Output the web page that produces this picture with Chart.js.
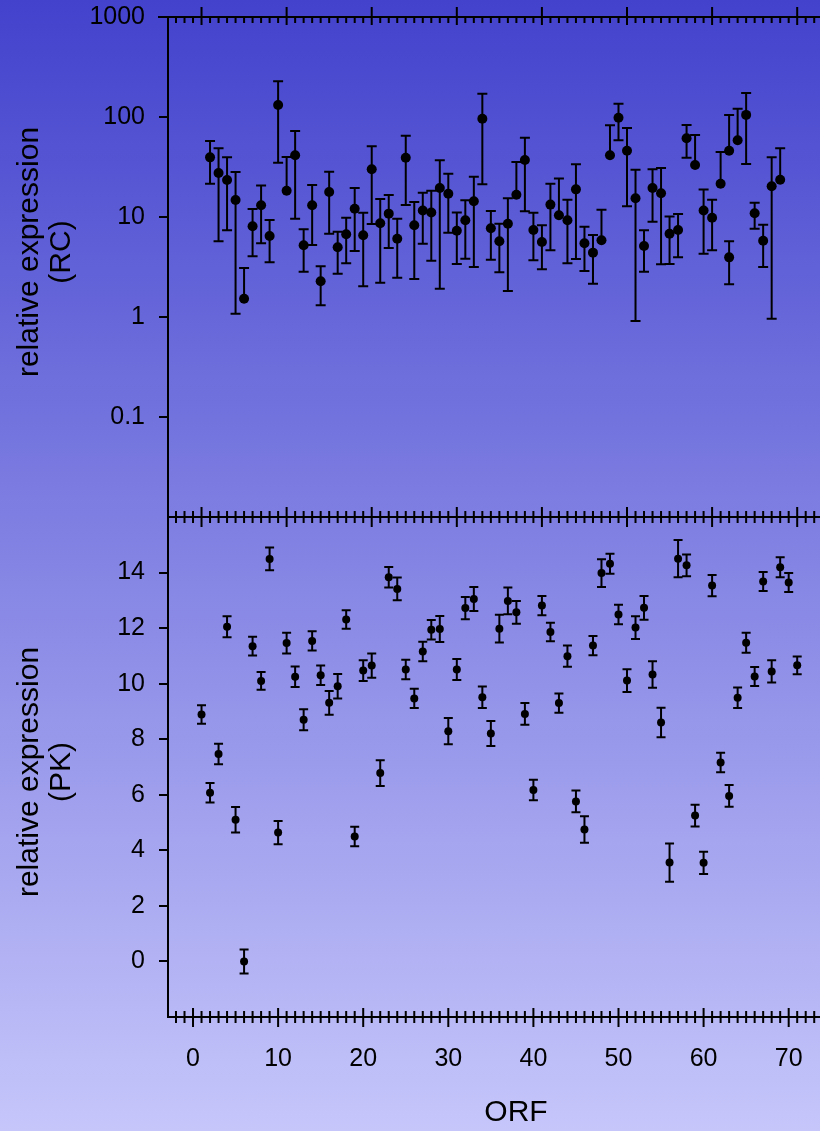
<!DOCTYPE html>
<html>
<head>
<meta charset="utf-8">
<script src="https://cdn.jsdelivr.net/npm/chart.js@4.4.1/dist/chart.umd.min.js"></script>
<style>
  html, body { margin: 0; padding: 0; }
  body {
    width: 820px; height: 1131px; overflow: hidden; position: relative;
    background: linear-gradient(to bottom, #4242cd 0%, #c6c6fb 100%);
  }
  canvas { position: absolute; left: 0; }
  #rc { top: 0; }
  #pk { top: 505px; }
</style>
</head>
<body>
<!-- plot runs past the right edge of the page, as in the original crop -->
<canvas id="rc" width="864" height="530"></canvas>
<canvas id="pk" width="864" height="626"></canvas>
<script>
// top panel: relative expression (RC), log scale
const rcX = [1, 2, 3, 4, 5, 6, 7, 8, 9, 10, 11, 12, 13, 14, 15, 16, 17, 18, 19, 20,
  21, 22, 23, 24, 25, 26, 27, 28, 29, 30, 31, 32, 33, 34, 35, 36, 37, 38, 39, 40,
  41, 42, 43, 44, 45, 46, 47, 48, 49, 50, 51, 52, 53, 54, 55, 56, 57, 58, 59, 60,
  61, 62, 62, 63, 64, 65, 66, 67, 68];
const rcVal = [39.5, 27.5, 23.4, 14.8, 1.52, 8.07, 13.1, 6.46, 132, 18.3,
  41.4, 5.21, 13.1, 2.28, 17.8, 4.98, 6.71, 12.1, 6.56, 30.0,
  8.65, 10.8, 6.07, 39.2, 8.26, 11.6, 11.1, 19.5, 17.1, 7.30,
  9.27, 14.4, 96.2, 7.71, 5.71, 8.57, 16.7, 37.2, 7.41, 5.62,
  13.3, 10.4, 9.27, 18.9, 5.46, 4.40, 5.85, 41.4, 98.4, 46.0,
  15.4, 5.13, 19.5, 17.3, 6.81, 7.41, 61.2, 33.1, 11.6, 9.84,
  21.5, 46.0, 3.95, 58.5, 105, 10.9, 5.79, 20.3, 23.6];
const rcHi = [57.5, 48.6, 39.5, 28.2, 3.09, 12.0, 20.6, 9.33, 228, 39.8,
  72.4, 7.53, 20.9, 3.21, 28.4, 7.13, 9.84, 19.5, 11.0, 50.9,
  15.1, 16.6, 9.62, 65.0, 14.1, 17.5, 18.3, 36.9, 27.1, 11.1,
  14.7, 25.3, 171, 11.5, 8.57, 15.4, 35.5, 62.1, 11.0, 8.26,
  21.5, 24.2, 14.9, 33.6, 8.00, 6.61, 11.8, 82.6, 136, 77.6,
  29.7, 7.36, 30.0, 30.9, 10.1, 10.7, 83.2, 66.1, 18.8, 14.9,
  44.7, 105, 5.71, 121, 174, 13.9, 8.38, 39.5, 48.6];
const rcLo = [21.5, 5.71, 7.36, 1.08, null, 4.05, 5.46, 3.52, 34.9, null,
  9.62, 2.84, 5.25, 1.31, 6.81, 2.71, 3.44, 4.57, 2.03, 8.51,
  2.20, 4.90, 2.47, 13.2, 2.40, 5.41, 3.66, 1.92, 6.97, 3.39,
  3.83, 3.16, 21.2, 3.74, 2.80, 1.82, null, 11.4, 3.69, 3.00,
  4.65, null, 3.44, 3.80, 2.88, 2.15, null, null, 58.5, 12.8,
  0.912, 2.84, 8.98, 3.37, 3.39, 3.95, 39.2, null, 4.30, 4.65,
  null, null, 2.12, null, 33.9, 7.64, 3.16, 0.962, null];
const rcTicks = [0.1, 1, 10, 100, 1000];

// bottom panel: relative expression (PK), linear scale
const pkX = [1, 2, 3, 4, 5, 6, 7, 8, 9, 10, 11, 12, 13, 14, 15, 16, 17, 18, 19, 20,
  21, 22, 23, 24, 25, 26, 27, 28, 29, 30, 31, 32, 33, 34, 35, 36, 37, 38, 39, 40,
  41, 42, 43, 44, 45, 46, 47, 48, 49, 50, 51, 52, 53, 54, 55, 56, 57, 58, 59, 60,
  61, 62, 63, 64, 65, 66, 67, 68, 69, 70, 71];
const pkVal = [8.89, 6.07, 7.47, 12.05, 5.10, 0.0, 11.35, 10.10, 14.49, 4.64,
  11.46, 10.25, 8.70, 11.54, 10.30, 9.31, 9.91, 12.31, 4.50, 10.47,
  10.65, 6.78, 13.83, 13.41, 10.51, 9.47, 11.16, 11.94, 11.97, 8.29,
  10.51, 12.72, 13.05, 9.51, 8.21, 11.98, 12.98, 12.57, 8.91, 6.17,
  12.81, 11.86, 9.30, 10.99, 5.76, 4.75, 11.37, 13.98, 14.32, 12.49,
  10.11, 12.02, 12.73, 10.33, 8.60, 3.56, 14.50, 14.26, 5.25, 3.55,
  13.53, 7.16, 5.96, 9.49, 11.47, 10.26, 13.68, 10.44, 14.19, 13.64, 10.66];
const pkErr = [0.33, 0.35, 0.37, 0.38, 0.46, 0.43, 0.34, 0.32, 0.41, 0.42,
  0.37, 0.37, 0.38, 0.35, 0.35, 0.43, 0.44, 0.33, 0.35, 0.37,
  0.44, 0.46, 0.37, 0.41, 0.35, 0.35, 0.35, 0.35, 0.47, 0.47,
  0.38, 0.40, 0.43, 0.39, 0.45, 0.50, 0.48, 0.41, 0.39, 0.37,
  0.35, 0.33, 0.35, 0.38, 0.39, 0.48, 0.35, 0.50, 0.36, 0.35,
  0.41, 0.41, 0.43, 0.48, 0.53, 0.69, 0.67, 0.39, 0.39, 0.40,
  0.38, 0.35, 0.39, 0.37, 0.36, 0.34, 0.34, 0.40, 0.36, 0.34, 0.32];
const pkTicks = [0, 2, 4, 6, 8, 10, 12, 14];
const orfTicks = [0, 10, 20, 30, 40, 50, 60, 70];

const X_MIN = -2.94;
const X_MAX = 78.85;
const TOP_SHIFT = 1; // the upper axes run one ORF behind the lower one

Chart.defaults.font.family = '"Liberation Sans", Arial, sans-serif';
Chart.defaults.color = "#000";

// vertical error bars with caps, drawn under the dots
const errorBars = {
  id: "errorBars",
  beforeDatasetsDraw(chart) {
    const { ctx } = chart;
    chart.data.datasets.forEach((ds, i) => {
      const meta = chart.getDatasetMeta(i);
      const xs = chart.scales[meta.xAxisID];
      const ys = chart.scales[meta.yAxisID];
      ctx.save();
      ctx.strokeStyle = "#000";
      ctx.lineWidth = 2;
      ctx.beginPath();
      ds.data.forEach((p, j) => {
        const x = xs.getPixelForValue(p.x);
        const yc = ys.getPixelForValue(p.y);
        const yh = ys.getPixelForValue(ds.errHi[j]);
        const hasLo = ds.errLo[j] != null;
        const yl = hasLo ? ys.getPixelForValue(ds.errLo[j]) : yc;
        ctx.moveTo(x, yh);
        ctx.lineTo(x, yl);
        ctx.moveTo(x - ds.cap, yh);
        ctx.lineTo(x + ds.cap, yh);
        if (hasLo) {
          ctx.moveTo(x - ds.cap, yl);
          ctx.lineTo(x + ds.cap, yl);
        }
      });
      ctx.stroke();
      ctx.restore();
    });
  },
};

// rotated two-line y title
const sideTitle = {
  id: "sideTitle",
  afterDraw(chart, args, opts) {
    const { ctx } = chart;
    ctx.save();
    ctx.translate(opts.x, opts.y);
    ctx.rotate(-Math.PI / 2);
    ctx.font = '30px "Liberation Sans", Arial, sans-serif';
    ctx.fillStyle = "#000";
    ctx.textAlign = "center";
    ctx.textBaseline = "middle";
    opts.lines.forEach((t, i) => {
      ctx.fillText(t, 0, (i - (opts.lines.length - 1) / 2) * opts.gap);
    });
    ctx.restore();
  },
};

// upper axis line with its ticks, plus the ticks of the lower axis
// up/down: how far major [0] and minor [1] ticks reach above and below the line
const frame = {
  id: "frame",
  afterDraw(chart, args, opts) {
    const { ctx, chartArea: a } = chart;
    const ticks = (scale, y, up, down) => {
      for (let v = Math.ceil(scale.min); v <= scale.max; v++) {
        const px = scale.getPixelForValue(v);
        if (px <= a.left + 1) continue;
        const k = v % 10 === 0 ? 0 : 1;
        ctx.moveTo(px, y - up[k]);
        ctx.lineTo(px, y + down[k]);
      }
    };
    ctx.save();
    ctx.strokeStyle = "#000";
    ctx.lineWidth = 2;
    ctx.beginPath();
    ctx.moveTo(a.left - (opts.extendLeft || 0), a.top);
    ctx.lineTo(a.right, a.top);
    ticks(chart.scales[opts.topScale], a.top, opts.topUp, opts.topDown);
    if (opts.bottomScale) {
      ticks(chart.scales[opts.bottomScale], a.bottom, [9, 6], [10, 6]);
    }
    ctx.stroke();
    ctx.restore();
  },
};

const yAxisStyle = {
  // fixed width, and no extra room reserved above/below the labels
  afterFit: (s) => {
    s.width = 168;
    s.paddingTop = 0;
    s.paddingBottom = 0;
  },
  grid: { drawOnChartArea: false, tickLength: 9, color: "#000", lineWidth: 2 },
  border: { display: true, color: "#000", width: 2 },
};

new Chart(document.getElementById("rc"), {
  type: "scatter",
  data: {
    datasets: [{
      data: rcX.map((x, i) => ({ x: x, y: rcVal[i] })),
      errHi: rcHi,
      errLo: rcLo,
      cap: 5,
      backgroundColor: "#000",
      borderWidth: 0,
      pointRadius: 5,
      pointHoverRadius: 5,
    }],
  },
  options: {
    responsive: false,
    animation: false,
    devicePixelRatio: 1,
    layout: { autoPadding: false, padding: { top: 17, right: 0, bottom: 13, left: 0 } },
    plugins: {
      legend: { display: false },
      tooltip: { enabled: false },
      sideTitle: { x: 46, y: 252, gap: 32, lines: ["relative expression", "(RC)"] },
      frame: { topScale: "x", extendLeft: 10, topUp: [10, 0], topDown: [8, 6] },
    },
    scales: {
      x: { type: "linear", min: X_MIN - TOP_SHIFT, max: X_MAX - TOP_SHIFT, display: false },
      y: {
        ...yAxisStyle,
        type: "logarithmic",
        min: 0.01,
        max: 1000,
        afterBuildTicks: (s) => { s.ticks = rcTicks.map((v) => ({ value: v })); },
        ticks: { callback: (v) => String(v), font: { size: 25 }, padding: 14, color: "#000" },
      },
    },
  },
  plugins: [errorBars, sideTitle, frame],
});

new Chart(document.getElementById("pk"), {
  type: "scatter",
  data: {
    datasets: [{
      data: pkX.map((x, i) => ({ x: x, y: pkVal[i] })),
      errHi: pkVal.map((v, i) => v + pkErr[i]),
      errLo: pkVal.map((v, i) => v - pkErr[i]),
      cap: 4.5,
      backgroundColor: "#000",
      borderWidth: 0,
      pointRadius: 4,
      pointHoverRadius: 4,
    }],
  },
  options: {
    responsive: false,
    animation: false,
    devicePixelRatio: 1,
    layout: { autoPadding: false, padding: { top: 12, right: 0, bottom: 0, left: 0 } },
    plugins: {
      legend: { display: false },
      tooltip: { enabled: false },
      sideTitle: { x: 46, y: 267, gap: 32, lines: ["relative expression", "(PK)"] },
      frame: { topScale: "xTop", bottomScale: "x", topUp: [10, 6], topDown: [10, 6] },
    },
    scales: {
      x: {
        type: "linear",
        position: "bottom",
        min: X_MIN,
        max: X_MAX,
        afterBuildTicks: (s) => { s.ticks = orfTicks.map((v) => ({ value: v })); },
        afterFit: (s) => { s.height = 114; },
        ticks: { font: { size: 25 }, padding: 27, color: "#000", maxRotation: 0 },
        grid: { drawOnChartArea: false, drawTicks: false, color: "#000" },
        border: { display: true, color: "#000", width: 2 },
        title: { display: true, text: "ORF", font: { size: 30 }, padding: 0, color: "#000" },
      },
      xTop: { type: "linear", position: "top", min: X_MIN - TOP_SHIFT, max: X_MAX - TOP_SHIFT, display: false },
      y: {
        ...yAxisStyle,
        type: "linear",
        min: -2,
        max: 16,
        afterBuildTicks: (s) => { s.ticks = pkTicks.map((v) => ({ value: v })); },
        ticks: { font: { size: 25 }, padding: 14, color: "#000" },
      },
    },
  },
  plugins: [errorBars, sideTitle, frame],
});
</script>
</body>
</html>
